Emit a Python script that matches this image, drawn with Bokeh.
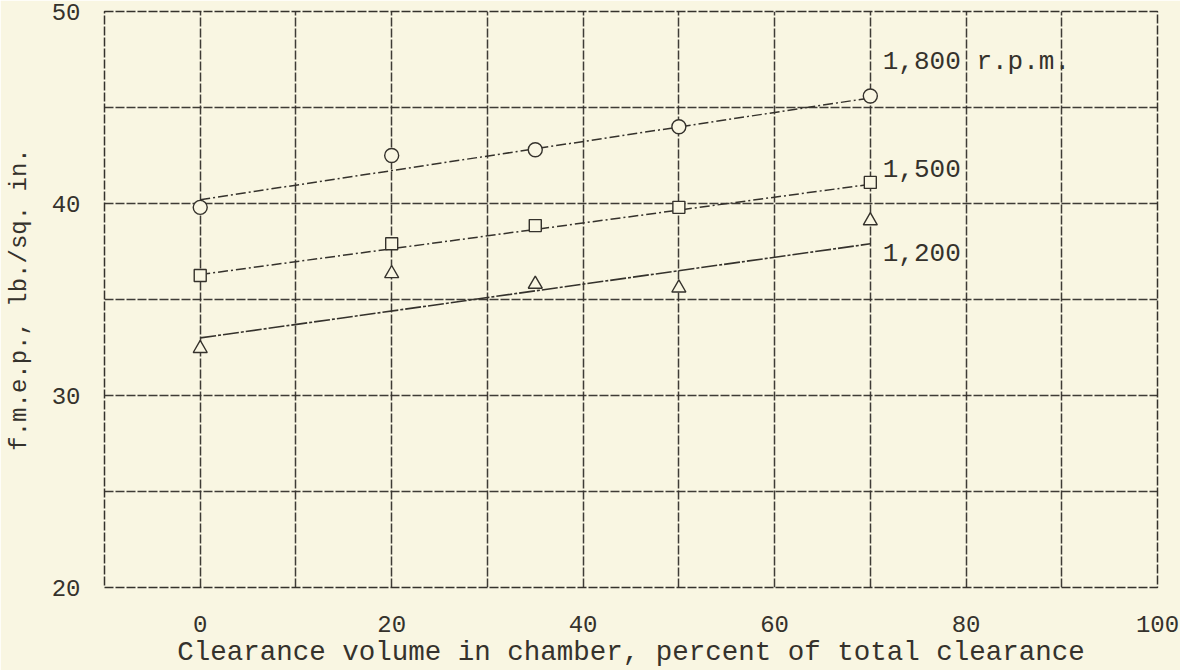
from bokeh.plotting import figure
from bokeh.models import FixedTicker, ColumnDataSource
from bokeh.core.properties import value
from bokeh.embed import file_html
from bokeh.resources import INLINE

# ---- data ----
clearance = [0, 20, 35, 50, 70]
fmep_1800 = [39.8, 42.5, 42.8, 44.0, 45.6]
fmep_1500 = [36.25, 37.9, 38.85, 39.8, 41.1]
fmep_1200 = [32.45, 36.35, 35.8, 35.6, 39.1]

fit_x = [0, 70]
fit_1800 = [40.2, 45.5]
fit_1500 = [36.3, 41.0]
fit_1200 = [33.0, 37.9]

series_labels = ["1,800 r.p.m.", "1,500", "1,200"]
label_x = [71.3, 71.3, 71.3]
label_y = [47.35, 41.8, 37.45]

x_ticks = [0, 20, 40, 60, 80, 100]
y_ticks = [20, 30, 40, 50]
x_grid = [0, 10, 20, 30, 40, 50, 60, 70, 80, 90]
y_grid = [25, 30, 35, 40, 45]

# ---- style ----
FONT = "Liberation Mono"
INK = "#35322c"
PAPER = "#f9f6e2"

p = figure(width=1180, height=670, x_range=(-10, 100), y_range=(20, 50),
           output_backend="svg", toolbar_location=None,
           min_border_left=104, min_border_right=23, min_border_top=11, min_border_bottom=83)
p.background_fill_color = PAPER
p.border_fill_color = PAPER
p.outline_line_color = INK
p.outline_line_width = 1.5
p.outline_line_dash = "9 2"

p.xgrid.ticker = FixedTicker(ticks=x_grid)
p.ygrid.ticker = FixedTicker(ticks=y_grid)
for g in (p.xgrid, p.ygrid):
    g.grid_line_color = INK
    g.grid_line_width = 1.5
    g.grid_line_dash = "9 2"
    g.grid_line_alpha = 0.95

p.xaxis.ticker = FixedTicker(ticks=x_ticks)
p.yaxis.ticker = FixedTicker(ticks=y_ticks)
for ax in (p.xaxis, p.yaxis):
    ax.axis_line_color = None
    ax.major_tick_line_color = None
    ax.minor_tick_line_color = None
    ax.major_label_text_font = FONT
    ax.major_label_text_font_size = "24px"
    ax.major_label_text_color = INK
    ax.axis_label_text_font = FONT
    ax.axis_label_text_font_style = "normal"
    ax.axis_label_text_color = INK

p.xaxis.axis_label = "Clearance volume in chamber, percent of total clearance"
p.xaxis.axis_label_text_font_size = "27.5px"
p.xaxis.major_label_standoff = 22
p.xaxis.axis_label_standoff = 2

p.yaxis.axis_label = "f.m.e.p., lb./sq. in."
p.yaxis.axis_label_text_font_size = "24px"
p.yaxis.major_label_standoff = 18
p.yaxis.axis_label_standoff = 16

# fitted lines
p.line(fit_x, fit_1800, line_color=INK, line_width=1.5, line_dash="10 3 2 3")
p.line(fit_x, fit_1500, line_color=INK, line_width=1.5, line_dash="10 3 2 3")
p.line(fit_x, fit_1200, line_color=INK, line_width=1.6, line_dash="16 2 3 2")

# data points
p.scatter(clearance, fmep_1800, marker="circle", size=14, line_color=INK,
          line_width=1.4, fill_color=PAPER)
p.scatter(clearance, fmep_1500, marker="square", size=12, line_color=INK,
          line_width=1.4, fill_color=PAPER)
p.scatter(clearance, fmep_1200, marker="triangle", size=14, line_color=INK,
          line_width=1.4, fill_color=PAPER)

src = ColumnDataSource(dict(x=label_x, y=label_y, t=series_labels))
p.text(x="x", y="y", text="t", source=src, text_font=value(FONT),
       text_font_size="26px", text_color=INK, text_baseline="middle",
       text_align="left")

open("out.html", "w").write(file_html(p, INLINE))
